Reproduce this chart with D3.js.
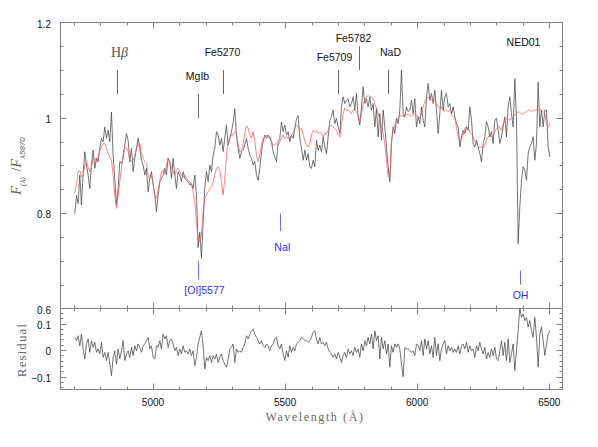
<!DOCTYPE html>
<html><head><meta charset="utf-8">
<script src="https://cdn.jsdelivr.net/npm/d3@7"></script>
<style>html,body{margin:0;padding:0;background:#fff;}svg{display:block;}</style>
</head><body>
<script>
// ---- data (sampled on a regular wavelength grid) ----
const waveStart = 4704.1;   // Angstrom, first sample
const waveStep = 6.3085;    // Angstrom per sample

const fluxObserved = [
0.799,0.837,0.820,0.880,0.817,0.883,0.929,0.901,0.880,0.852,
0.901,0.932,0.894,0.915,0.908,0.936,0.957,0.950,0.981,0.957,
0.974,0.950,1.012,0.922,0.873,0.817,0.852,0.908,0.904,0.915,
0.943,0.967,0.953,0.908,0.936,0.887,0.915,0.936,0.957,0.936,
0.911,0.901,0.880,0.894,0.845,0.873,0.887,0.859,0.838,0.803,
0.838,0.866,0.873,0.880,0.894,0.880,0.915,0.908,0.873,0.915,
0.880,0.852,0.887,0.880,0.866,0.887,0.873,0.869,0.866,0.859,
0.862,0.852,0.880,0.838,0.728,0.760,0.705,0.782,0.852,0.887,
0.866,0.901,0.887,0.922,0.936,0.971,0.964,0.943,0.957,0.929,
0.957,0.985,0.943,0.957,0.971,0.991,1.019,0.964,0.936,0.915,
0.929,0.932,0.943,0.957,0.936,0.922,0.915,0.901,0.908,0.880,
0.869,0.894,0.929,0.950,0.964,0.957,0.964,0.957,0.950,0.929,
0.918,0.908,0.950,0.957,0.991,0.971,0.985,0.964,0.971,0.950,
0.964,0.957,0.978,0.998,1.005,0.957,0.936,0.911,0.932,0.911,
0.925,0.897,0.894,0.911,0.897,0.953,0.932,0.943,0.929,0.960,
0.939,0.925,0.960,0.995,1.002,1.016,0.988,0.999,0.981,0.967,
1.023,1.044,1.030,1.037,1.040,1.023,1.030,1.044,1.016,1.051,
1.002,0.985,1.023,1.065,1.030,1.040,1.023,1.044,1.016,1.030,
0.981,1.020,0.960,1.009,0.953,1.016,0.981,0.939,0.897,0.866,
0.946,0.981,0.967,0.999,0.988,1.016,1.100,1.009,1.002,1.023,
1.013,1.016,1.037,1.009,1.040,0.981,1.002,0.988,1.023,0.995,
0.981,1.044,1.072,1.037,1.051,1.030,1.058,1.016,0.967,1.009,
1.058,1.016,1.044,1.051,1.023,1.030,1.009,1.023,1.002,0.988,
0.981,0.939,0.960,0.974,0.967,0.981,0.974,1.023,0.995,0.946,
0.939,0.953,0.939,0.925,0.908,0.946,0.960,0.992,0.981,0.960,
0.971,0.946,0.995,0.999,0.974,0.946,0.960,0.981,1.002,0.960,
1.023,1.044,1.009,0.981,1.082,0.995,0.736,0.813,0.869,0.897,
0.890,0.869,0.925,0.939,0.946,0.960,0.911,0.946,1.075,0.981,
1.016,0.981,1.016,1.016,0.939,0.918];

const fluxModel = [
0.843,0.860,0.887,0.890,0.876,0.880,0.901,0.908,0.897,0.887,
0.897,0.915,0.915,0.908,0.918,0.932,0.939,0.946,0.946,0.936,
0.925,0.918,0.911,0.880,0.838,0.810,0.838,0.866,0.894,0.922,
0.939,0.936,0.929,0.911,0.908,0.911,0.922,0.936,0.943,0.946,
0.925,0.915,0.908,0.904,0.880,0.873,0.880,0.862,0.838,0.831,
0.848,0.869,0.887,0.890,0.883,0.901,0.915,0.908,0.897,0.887,
0.880,0.890,0.894,0.887,0.880,0.876,0.880,0.873,0.869,0.866,
0.859,0.845,0.824,0.782,0.747,0.740,0.754,0.803,0.831,0.838,
0.845,0.852,0.855,0.866,0.880,0.894,0.897,0.890,0.866,0.838,
0.873,0.922,0.950,0.957,0.964,0.964,0.971,0.967,0.943,0.929,
0.932,0.943,0.967,0.983,0.978,0.964,0.957,0.971,0.950,0.922,
0.908,0.922,0.943,0.957,0.960,0.964,0.960,0.960,0.950,0.943,
0.943,0.946,0.943,0.950,0.957,0.964,0.957,0.960,0.957,0.957,
0.964,0.967,0.978,0.985,0.981,0.975,0.978,0.964,0.953,0.943,
0.939,0.946,0.964,0.974,0.971,0.973,0.967,0.971,0.967,0.960,
0.967,0.967,0.974,0.981,0.985,0.981,0.978,0.974,0.964,0.960,
0.988,1.009,1.020,1.016,1.016,1.013,1.009,1.016,1.016,1.013,
1.006,0.992,1.006,1.030,1.037,1.044,1.047,1.044,1.044,1.040,
1.030,1.020,1.009,0.995,0.981,0.967,0.946,0.911,0.876,0.873,
0.953,0.971,0.985,0.995,0.999,1.002,1.006,1.002,1.009,1.006,
1.008,1.006,1.002,1.006,1.009,1.006,1.002,0.999,1.009,1.023,
1.034,1.040,1.044,1.040,1.037,1.034,1.037,1.030,1.023,1.020,
1.023,1.016,1.013,1.016,1.013,1.016,1.006,1.002,0.999,0.981,
0.960,0.950,0.957,0.964,0.978,0.981,0.978,0.971,0.967,0.960,
0.953,0.946,0.939,0.938,0.939,0.936,0.943,0.953,0.960,0.964,
0.960,0.964,0.971,0.978,0.981,0.981,0.974,0.988,0.995,0.999,
0.997,0.995,0.999,1.002,1.006,1.009,1.013,1.011,1.008,1.009,
1.011,1.013,1.016,1.016,1.013,1.016,1.017,1.016,1.016,1.017,
1.016,1.013,1.009,0.988,0.981,0.988];

const residual = [
0.048,0.035,0.054,0.016,0.060,0.004,-0.034,0.023,0.042,-0.009,
0.035,0.010,0.029,-0.009,0.004,-0.015,0.029,-0.028,-0.009,-0.040,
-0.009,-0.053,-0.097,-0.028,-0.003,-0.053,0.004,-0.034,-0.003,0.035,
-0.040,-0.015,-0.003,-0.028,0.010,-0.021,0.016,-0.003,0.023,0.010,
-0.009,0.016,0.023,0.035,0.048,0.004,0.016,-0.028,-0.034,0.016,
0.010,0.035,0.004,0.060,0.042,0.054,0.010,0.035,0.042,0.023,
-0.003,0.010,-0.021,0.004,-0.015,0.016,-0.009,-0.003,-0.015,0.004,
-0.021,-0.003,-0.059,-0.028,0.023,0.048,0.073,0.016,-0.072,-0.028,
-0.040,-0.021,-0.047,-0.021,-0.034,-0.015,-0.047,-0.028,-0.015,-0.040,
-0.053,-0.065,-0.034,0.004,0.010,0.023,-0.047,0.004,-0.009,-0.003,
-0.009,0.010,0.023,0.054,0.042,0.060,0.073,0.079,0.060,0.048,
0.035,0.023,0.035,0.016,0.010,0.023,0.016,-0.003,0.016,0.023,
0.042,0.048,0.016,0.004,0.023,-0.015,-0.040,-0.003,-0.028,0.016,
-0.009,0.010,-0.003,0.023,0.029,0.035,0.048,0.042,0.035,0.035,
0.029,0.035,0.048,0.067,0.073,0.042,0.023,0.048,0.023,0.029,
0.016,0.029,0.004,-0.009,-0.015,-0.028,-0.015,-0.034,-0.009,-0.028,
-0.047,-0.021,-0.009,-0.028,0.004,-0.015,-0.003,-0.021,0.010,-0.009,
0.004,-0.028,0.023,-0.003,0.035,0.016,0.048,0.023,0.060,0.004,
0.073,0.035,0.054,-0.034,0.048,0.004,0.035,-0.015,0.023,-0.065,
0.016,-0.009,0.023,0.010,0.023,0.004,-0.053,-0.101,0.010,0.004,
0.004,-0.003,-0.009,-0.003,-0.021,0.023,0.016,-0.003,0.035,-0.021,
0.042,0.004,0.035,-0.015,0.016,-0.028,0.048,-0.021,0.023,-0.040,
0.004,0.023,0.035,-0.015,0.016,-0.003,0.010,-0.009,0.004,-0.009,
0.016,-0.015,0.016,0.023,0.004,0.029,-0.009,0.016,-0.003,0.004,
-0.028,0.016,-0.003,0.029,0.004,-0.015,0.010,-0.034,-0.009,-0.028,
0.004,-0.021,0.010,-0.034,-0.040,-0.003,0.035,-0.021,0.029,-0.040,
0.042,-0.047,-0.015,0.023,-0.078,-0.003,0.073,0.161,0.123,0.136,
0.111,0.123,0.086,0.111,0.073,0.048,0.123,0.048,-0.065,0.060,
0.086,0.035,-0.021,0.023,0.060,0.073];

// absorption features (black) and sky lines (blue)
const featureNames = ["H\u03b2", "MgIb", "Fe5270", "Fe5709", "Fe5782", "NaD", "NED01"];
const featureWave  = [4863, 5171, 5264, 5700, 5780, 5890, 6400];
const featureTop    = [1.10, 1.05, 1.10, 1.10, 1.15, 1.10, null];
const featureBottom = [1.05, 1.00, 1.05, 1.05, 1.10, 1.05, null];

const skyNames = ["[OI]5577", "NaI", "OH"];
const skyWave  = [5171, 5480, 6390];
const skyTop    = [0.700, 0.800, 0.680];
const skyBottom = [0.661, 0.762, 0.650];

const xTickMajor = [5000, 5500, 6000, 6500];
const mainTickLabels = [0.6, 0.8, 1, 1.2];
const residTickLabels = [0.1, 0, -0.1];

// ---- layout ----
const W = 598, H = 447;
const svg = d3.select("body").append("svg").attr("width", W).attr("height", H);
svg.append("rect").attr("width", W).attr("height", H).attr("fill", "#fff");

const x = d3.scaleLinear().domain([4650, 6550]).range([60.5, 562.5]);
const yMain = d3.scaleLinear().domain([0.6, 1.2]).range([308.5, 22.5]);
const yRes = d3.scaleLinear().domain([-0.149, 0.1566]).range([389.5, 308.5]);

const waves = fluxObserved.map((_, i) => waveStart + i * waveStep);
const axisColor = "#808080";
const sans = "'Liberation Sans', Arial, Helvetica, sans-serif";
const serif = "'Liberation Serif', 'Times New Roman', serif";

function drawFrame(y, minorStep, majorVals) {
  const g = svg.append("g").attr("stroke", axisColor).attr("stroke-width", 1).attr("fill", "none");
  const [x0, x1] = x.range();
  const [yb, yt] = y.range();
  g.append("rect").attr("x", x0).attr("y", yt).attr("width", x1 - x0).attr("height", yb - yt);
  const xt = d3.range(4700, 6501, 100);
  xt.forEach(v => {
    const len = xTickMajor.includes(v) ? 6 : 3;
    const px = Math.round(x(v)) + 0.5;
    g.append("line").attr("x1", px).attr("x2", px).attr("y1", yt).attr("y2", yt + len);
    g.append("line").attr("x1", px).attr("x2", px).attr("y1", yb).attr("y2", yb - len);
  });
  const [d0, d1] = y.domain();
  const start = Math.ceil(d0 / minorStep - 1e-6);
  const end = Math.floor(d1 / minorStep + 1e-6);
  for (let i = start; i <= end; i++) {
    const v = i * minorStep;
    const isMajor = majorVals.some(m => Math.abs(m - v) < 1e-6);
    const len = isMajor ? 6 : 3;
    const py = Math.round(y(v)) + 0.5;
    g.append("line").attr("x1", x0).attr("x2", x0 + len).attr("y1", py).attr("y2", py);
    g.append("line").attr("x1", x1).attr("x2", x1 - len).attr("y1", py).attr("y2", py);
  }
}

drawFrame(yMain, 0.05, [0.6, 0.8, 1.0, 1.2]);
drawFrame(yRes, 0.02, [0.1, 0, -0.1]);

// tick labels
svg.append("g").selectAll("text").data(mainTickLabels).join("text")
  .attr("x", 51).attr("y", d => yMain(d) + 1.5)
  .attr("text-anchor", "end").attr("dominant-baseline", "central")
  .attr("font-family", sans).attr("font-size", 10).attr("fill", "#111")
  .text(d => d3.format("")(d));
svg.append("g").selectAll("text").data(residTickLabels).join("text")
  .attr("x", 51).attr("y", d => yRes(d) + 1.5)
  .attr("text-anchor", "end").attr("dominant-baseline", "central")
  .attr("font-family", sans).attr("font-size", 10).attr("fill", "#111")
  .text(d => d3.format("")(d));
svg.append("g").selectAll("text").data(xTickMajor).join("text")
  .attr("x", d => x(d)).attr("y", 402.5)
  .attr("text-anchor", "middle").attr("dominant-baseline", "central")
  .attr("font-family", sans).attr("font-size", 10).attr("fill", "#111")
  .text(d => d);

// spectra
const lineMain = (vals) => d3.line().x((d, i) => x(waves[i])).y(d => yMain(d))(vals);
svg.append("path").attr("d", lineMain(fluxObserved))
  .attr("fill", "none").attr("stroke", "#454545").attr("stroke-width", 0.75).attr("stroke-linejoin", "round");
svg.append("path").attr("d", lineMain(fluxModel))
  .attr("fill", "none").attr("stroke", "#ff5a5a").attr("stroke-width", 0.75).attr("stroke-linejoin", "round");

// residual (clipped to its panel)
svg.append("clipPath").attr("id", "resclip").append("rect")
  .attr("x", x.range()[0]).attr("y", yRes.range()[1]).attr("width", x.range()[1] - x.range()[0])
  .attr("height", yRes.range()[0] - yRes.range()[1]);
svg.append("path")
  .attr("d", d3.line().x((d, i) => x(waves[i])).y(d => yRes(d))(residual))
  .attr("clip-path", "url(#resclip)")
  .attr("fill", "none").attr("stroke", "#454545").attr("stroke-width", 0.75).attr("stroke-linejoin", "round");

// feature markers
const featLabelDx = [2, -1, -1, -4, -6, 2, 0];
const featLabelY  = [52, 76, 52, 57, 37.5, 52, 42];
featureNames.forEach((name, i) => {
  const px = Math.round(x(featureWave[i])) + 0.5;
  if (featureTop[i] !== null) {
    svg.append("line").attr("x1", px).attr("x2", px)
      .attr("y1", yMain(featureTop[i])).attr("y2", yMain(featureBottom[i]))
      .attr("stroke", "#666").attr("stroke-width", 1);
  }
  const t = svg.append("text").attr("x", px + featLabelDx[i]).attr("y", featLabelY[i])
    .attr("text-anchor", "middle").attr("dominant-baseline", "central");
  if (i === 0) {
    t.attr("font-family", serif).attr("font-size", 14).attr("fill", "#555");
    t.append("tspan").text("H");
    t.append("tspan").attr("font-style", "italic").text("\u03b2");
  } else {
    t.attr("font-family", sans).attr("font-size", 10.5).attr("fill", "#111").text(name);
  }
});

const skyLabelDx = [6, 2, 0];
const skyLabelGap = [11, 16, 10];
skyNames.forEach((name, i) => {
  const px = Math.round(x(skyWave[i])) + 0.5;
  svg.append("line").attr("x1", px).attr("x2", px)
    .attr("y1", yMain(skyTop[i])).attr("y2", yMain(skyBottom[i]))
    .attr("stroke", "#7070ff").attr("stroke-width", 1);
  svg.append("text").attr("x", px + skyLabelDx[i]).attr("y", yMain(skyBottom[i]) + skyLabelGap[i])
    .attr("text-anchor", "middle").attr("dominant-baseline", "central")
    .attr("font-family", sans).attr("font-size", 10.5).attr("fill", "#3030ff").text(name);
});

// axis titles
const yt = svg.append("text").attr("transform", "translate(21,166) rotate(-90)")
  .attr("text-anchor", "middle").attr("fill", "#666").attr("font-family", serif).attr("font-size", 14);
yt.append("tspan").attr("font-style", "italic").text("F");
yt.append("tspan").attr("font-size", 8).attr("font-style", "italic").attr("font-family", sans).attr("dy", 4).text("(\u03bb)");
yt.append("tspan").attr("dy", -4).text("\u2009\u2009/");
yt.append("tspan").attr("font-style", "italic").text("F");
yt.append("tspan").attr("font-size", 8).attr("font-style", "italic").attr("font-family", sans).attr("dy", 4).text("\u03bb5870");

svg.append("text").attr("transform", "translate(21,350) rotate(-90)")
  .attr("text-anchor", "middle").attr("dominant-baseline", "central")
  .attr("fill", "#666").attr("font-family", serif).attr("font-size", 13).attr("letter-spacing", 1.1)
  .text("Residual");

svg.append("text").attr("x", 315).attr("y", 417)
  .attr("text-anchor", "middle").attr("dominant-baseline", "central")
  .attr("fill", "#666").attr("font-family", serif).attr("font-size", 12).attr("letter-spacing", 1.6)
  .text("Wavelength (\u00c5)");
</script>
</body></html>
